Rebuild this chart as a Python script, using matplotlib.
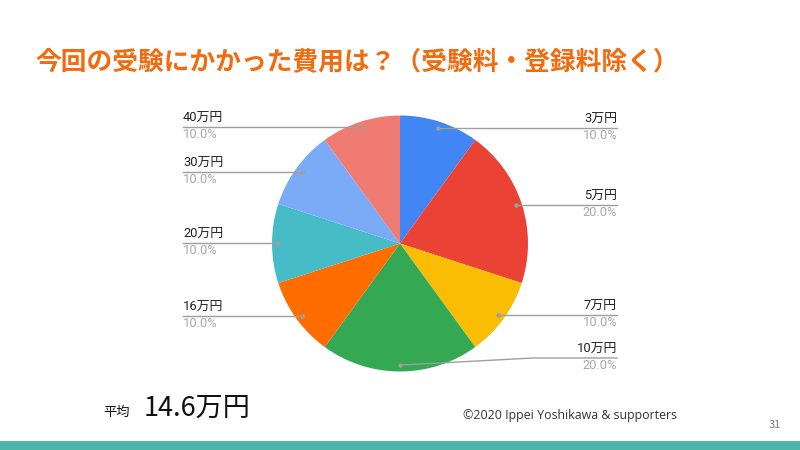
import numpy as np
import matplotlib
matplotlib.use("Agg")
import matplotlib.pyplot as plt

plt.rcParams['font.family'] = ['Noto Sans CJK JP', 'DejaVu Sans']

categories = ["3万円", "5万円", "7万円", "10万円", "16万円", "20万円", "30万円", "40万円"]
values = [10, 20, 10, 20, 10, 10, 10, 10]
colors = ["#4285F4", "#EA4335", "#FBBC04", "#34A853", "#FF6D01", "#46BDC6", "#7BAAF7", "#F07B72"]
title = "今回の受験にかかった費用は？（受験料・登録料除く）"
avg_label = "平均"
avg_value = "14.6万円"
credit = "©2020 Ippei Yoshikawa & supporters"
page = "31"

W, H = 800, 450
fig = plt.figure(figsize=(8, 4.5), dpi=100)

# pie axes: centre (400, 243.5) px, radius 128 px
cx, cy, r = 400, 243.5, 128
ax = fig.add_axes([(cx - r) / W, (H - cy - r) / H, 2 * r / W, 2 * r / H])
wedges, _ = ax.pie(values, colors=colors, startangle=90, counterclock=False,
                   wedgeprops=dict(linewidth=0))
ax.set_xlim(-1, 1)
ax.set_ylim(-1, 1)
ax.set_aspect('equal')
ax.axis('off')

# label positions (pixel-y of the horizontal leader line), per category
line_y = {"3万円": 128, "5万円": 205, "7万円": 315, "10万円": 358,
          "16万円": 316, "20万円": 243, "30万円": 172, "40万円": 127}
right_x, left_x = 617, 183
lab_font = ['Roboto', 'Noto Sans CJK JP']

def px_to_data(x, y):
    return ((x - cx) / r, (cy - y) / r)

total = sum(values)
cum = 0
for cat, v in zip(categories, values):
    mid = 90 - 360 * (cum + v / 2) / total
    cum += v
    ang = np.deg2rad(mid)
    px, py = 0.95 * np.cos(ang), 0.95 * np.sin(ang)
    ly = px_to_data(0, line_y[cat])[1]
    right = px > 0 or (abs(px) < 1e-6 and cat == "10万円")
    ex = px_to_data(right_x if right else left_x, 0)[0]
    if cat == "10万円":
        kx = px_to_data(533, 0)[0]
        xs, ys = [px, kx, ex], [py, ly, ly]
    else:
        xs, ys = [px, ex], [ly, ly]
        py = ly
    ax.plot(xs, ys, color="#9e9e9e", lw=1.0, clip_on=False, zorder=3)
    ax.plot([px], [py], 'o', ms=2.2, color="#9e9e9e", clip_on=False, zorder=4)
    ha = 'right' if right else 'left'
    pct = f"{100 * v / total:.1f}%"
    ax.text(ex, ly + 2 / r, cat, ha=ha, va='bottom', fontsize=9.3, color="#222222",
            family=lab_font)
    ax.text(ex, ly - 1 / r, pct, ha=ha, va='top', fontsize=9.3, color="#a8a8a8",
            family=lab_font)

# title
fig.text(35 / W, 1 - 62 / H, title, fontsize=18.5, fontweight='bold', color="#F26B0F",
         ha='left', va='center')

# average
fig.text(103 / W, 1 - 412 / H, avg_label, fontsize=9.5, color="#111111", ha='left', va='center')
fig.text(144 / W, 1 - 408 / H, avg_value, fontsize=19.5, color="#111111", ha='left', va='center')

# credit and page
fig.text(463 / W, 1 - 416 / H, credit, fontsize=8.9, color="#333333", ha='left', va='center',
         family=['Open Sans', 'DejaVu Sans'])
fig.text(769 / W, 1 - 425 / H, page, fontsize=8, color="#777777", ha='left', va='center')

# bottom bar
bar = plt.Rectangle((0, 0), 1, 9 / H, transform=fig.transFigure, color="#4DB6AC", lw=0)
fig.patches.append(bar)

fig.savefig("out.png", dpi=100)
